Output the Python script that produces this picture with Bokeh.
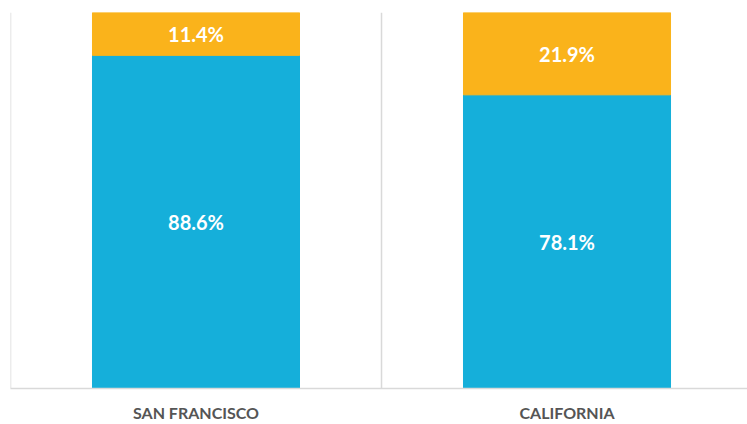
from bokeh.plotting import figure
from bokeh.models import ColumnDataSource, Range1d, FixedTicker, Span, LabelSet
from bokeh.core.properties import value
from bokeh.embed import file_html
from bokeh.resources import INLINE

categories = ["SAN FRANCISCO", "CALIFORNIA"]
blue_values = [88.6, 78.1]
orange_values = [11.4, 21.9]

BLUE = "#15afda"
ORANGE = "#fab31b"

xs = [i + 0.5 for i in range(len(categories))]
src = ColumnDataSource(dict(
    x=xs,
    blue=blue_values,
    orange_top=[b + o for b, o in zip(blue_values, orange_values)],
    blue_mid=[b / 2 for b in blue_values],
    orange_mid=[b + o / 2 for b, o in zip(blue_values, orange_values)],
    blue_lbl=[f"{v:.1f}%" for v in blue_values],
    orange_lbl=[f"{v:.1f}%" for v in orange_values],
))

p = figure(width=747, height=424, output_backend="svg", toolbar_location=None,
           x_range=Range1d(0, 1.9865), y_range=Range1d(0, 100),
           min_border_left=10, min_border_right=0, min_border_top=12, min_border_bottom=0)
p.outline_line_color = None
p.background_fill_color = "white"
p.border_fill_color = "white"
p.grid.visible = False
p.yaxis.visible = False

p.vbar(x="x", bottom=0, top="blue", width=0.558, color=BLUE, source=src)
p.vbar(x="x", bottom="blue", top="orange_top", width=0.558, color=ORANGE, source=src)

for loc in [0, 1]:
    p.add_layout(Span(location=loc, dimension="height", line_color="#d9d9d9", line_width=1.5))

for ycol, tcol in [("blue_mid", "blue_lbl"), ("orange_mid", "orange_lbl")]:
    p.add_layout(LabelSet(x="x", y=ycol, text=tcol, source=src, text_align="center",
                          text_baseline="middle", text_color="white",
                          text_font=value("Lato"), text_font_style="bold",
                          text_font_size="20px"))

ax = p.xaxis[0]
ax.ticker = FixedTicker(ticks=xs)
ax.major_label_overrides = {x: c for x, c in zip(xs, categories)}
ax.axis_line_color = "#d9d9d9"
ax.axis_line_width = 1.5
ax.major_tick_line_color = None
ax.minor_tick_line_color = None
ax.major_tick_in = 0
ax.major_tick_out = 0
ax.major_label_standoff = 14
ax.major_label_text_font = "Lato"
ax.major_label_text_font_style = "bold"
ax.major_label_text_font_size = "16px"
ax.major_label_text_color = "#555555"

open("out.html", "w").write(file_html(p, INLINE))
